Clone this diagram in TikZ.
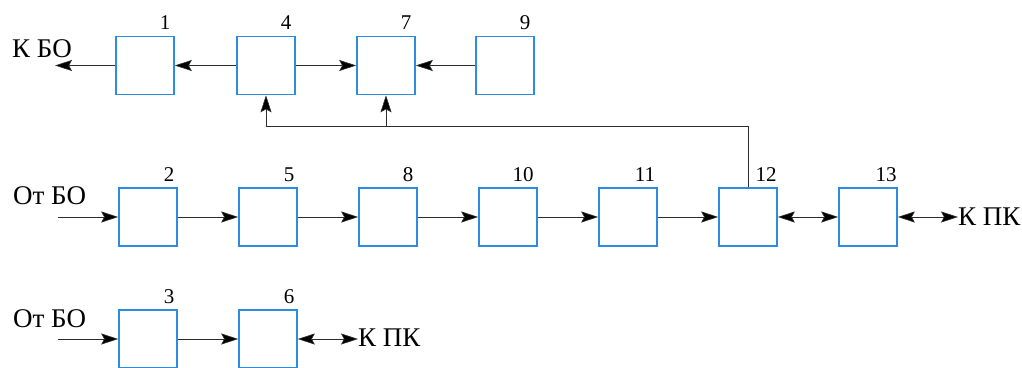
\documentclass[tikz,border=0pt]{standalone}
\usepackage{fontspec}
\setmainfont{Liberation Serif}
\usetikzlibrary{arrows.meta}
\definecolor{boxblue}{RGB}{45,140,225}
\definecolor{wirec}{RGB}{45,45,45}
\begin{document}
\begin{tikzpicture}[x=1pt,y=-1pt,
  blk/.style={draw=boxblue, line width=1.6pt, minimum width=58pt,
    minimum height=58pt, inner sep=0pt, fill=white},
  tip/.tip={Stealth[length=17pt,width=11pt,inset=3pt,fill=black,line width=0.6pt]},
  wire/.style={draw=wirec, line width=0.9pt, -tip},
  dwire/.style={draw=wirec, line width=0.9pt, tip-tip},
  lab/.style={font=\fontsize{27}{32}\selectfont, inner sep=0pt},
  num/.style={font=\fontsize{21}{24}\selectfont, inner sep=0pt, anchor=base}]
\clip (0,0) rectangle (1022,367);
\fill[white] (0,0) rectangle (1022,367);

% upper row
\node[blk] (b1) at (145,65.5) {};
\node[blk] (b4) at (266,65.5) {};
\node[blk] (b7) at (386,65.5) {};
\node[blk] (b9) at (505,65.5) {};
% middle row
\node[blk] (b2)  at (148,217) {};
\node[blk] (b5)  at (268,217) {};
\node[blk] (b8)  at (388,217) {};
\node[blk] (b10) at (508,217) {};
\node[blk] (b11) at (628,217) {};
\node[blk] (b12) at (748,217) {};
\node[blk] (b13) at (868,217) {};
% lower row
\node[blk] (b3) at (148,339) {};
\node[blk] (b6) at (268,339) {};

% block numbers
\path (b1.north)  ++(20,-6) node[num] (n1)  {1};
\path (b4.north)  ++(20,-6) node[num] (n4)  {4};
\path (b7.north)  ++(20,-6) node[num] (n7)  {7};
\path (b9.north)  ++(20,-6) node[num] (n9)  {9};
\path (b2.north)  ++(21,-6) node[num] (n2)  {2};
\path (b5.north)  ++(21,-6) node[num] (n5)  {5};
\path (b8.north)  ++(20,-6) node[num] (n8)  {8};
\path (b10.north) ++(15,-6) node[num] (n10) {10};
\path (b11.north) ++(17,-6) node[num] (n11) {11};
\path (b12.north) ++(18,-6) node[num] (n12) {12};
\path (b13.north) ++(18,-6) node[num] (n13) {13};
\path (b3.north)  ++(21,-6) node[num] (n3)  {3};
\path (b6.north)  ++(21,-6) node[num] (n6)  {6};

% outer labels
\node[lab, anchor=base west] (kbo)  at (12,57)     {К БО};
\node[lab, anchor=base west] (ot2)  at (13,204)    {От БО};
\node[lab, anchor=base west] (kpk2) at (958,225.5) {К ПК};
\node[lab, anchor=base west] (ot3)  at (13,327)    {От БО};
\node[lab, anchor=base west] (kpk3) at (358,346)   {К ПК};

% free ends of connectors
\coordinate (kboend) at (55,65.5);
\coordinate (in2)    at (58,217);
\coordinate (out2)   at (958,217);
\coordinate (in3)    at (58,339);
\coordinate (out3)   at (358,339);

% upper row connectors
\draw[wire] (b1.west) -- (kboend);
\draw[wire] (b4.west) -- (b1.east);
\draw[wire] (b4.east) -- (b7.west);
\draw[wire] (b9.west) -- (b7.east);

% middle row connectors
\draw[wire]  (in2) -- (b2.west);
\draw[wire]  (b2.east) -- (b5.west);
\draw[wire]  (b5.east) -- (b8.west);
\draw[wire]  (b8.east) -- (b10.west);
\draw[wire]  (b10.east) -- (b11.west);
\draw[wire]  (b11.east) -- (b12.west);
\draw[dwire] (b12.east) -- (b13.west);
\draw[dwire] (b13.east) -- (out2);

% lower row connectors
\draw[wire]  (in3) -- (b3.west);
\draw[wire]  (b3.east) -- (b6.west);
\draw[dwire] (b6.east) -- (out3);

% feedback from block 12 to blocks 4 and 7
\path (b12.north) ++(0,-61) coordinate (bus);
\draw[wire] (b12.north) -- (bus) -| (b4.south);
\draw[wire] (b7.south |- bus) -- (b7.south);
\end{tikzpicture}
\end{document}
